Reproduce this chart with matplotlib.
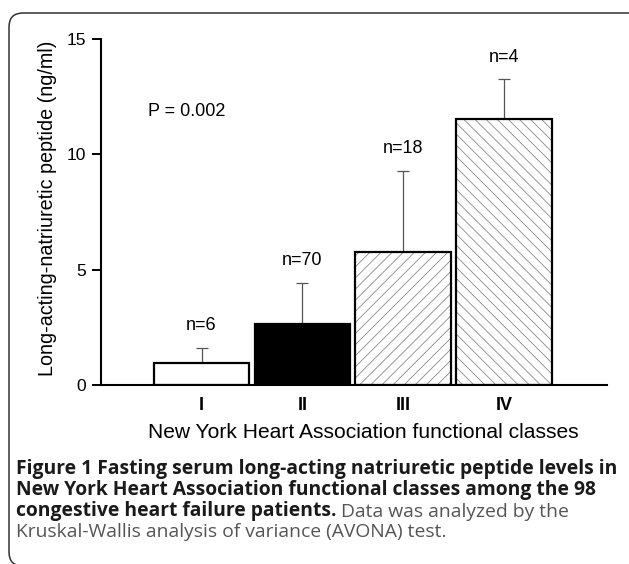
import numpy as np
import matplotlib.pyplot as plt
from matplotlib.patches import FancyBboxPatch

# data
classes = ['I', 'II', 'III', 'IV']
means = [0.97, 2.63, 5.77, 11.55]
sds = [0.65, 1.80, 3.52, 1.70]
n_labels = ['n=6', 'n=70', 'n=18', 'n=4']
p_text = 'P = 0.002'

caption_bold = ['Figure 1 Fasting serum long-acting natriuretic peptide levels in',
                'New York Heart Association functional classes among the 98',
                'congestive heart failure patients.']
caption_plain = [' Data was analyzed by the',
                 'Kruskal-Wallis analysis of variance (AVONA) test.']

plt.rcParams['font.family'] = ['Liberation Sans', 'DejaVu Sans']

W, H = 629, 564
fig = plt.figure(figsize=(W / 100, H / 100), dpi=100)
ax = fig.add_axes([100.7 / W, 1 - 385 / H, (607 - 100.7) / W, (385 - 39) / H])

x = np.arange(len(classes))
width = 0.95

# fills
ax.bar(x[0], means[0], width, color='white', edgecolor='black', linewidth=1.6, zorder=2)
ax.bar(x[1], means[1], width, color='black', edgecolor='black', linewidth=1.6, zorder=2)
plt.rcParams['hatch.linewidth'] = 0.6
ax.bar(x[2], means[2], width, color='white', edgecolor='#8a8a8a', hatch='///', linewidth=0, zorder=2)
ax.bar(x[3], means[3], width, color='white', edgecolor='#8a8a8a', hatch='\\\\\\', linewidth=0, zorder=2)
ax.bar(x[2:], means[2:], width, color='none', edgecolor='black', linewidth=1.6, zorder=3)

# error bars (upper only)
ax.errorbar(x, means, yerr=[np.zeros(len(sds)), sds], fmt='none', ecolor='#555555',
            elinewidth=0.9, capsize=4, capthick=0.9, zorder=1)

for xi, m, s, lab in zip(x, means, sds, n_labels):
    ax.annotate(lab, (xi, m + s), xytext=(0, 16), textcoords='offset points',
                ha='center', va='center', fontsize=13)

ax.text(-0.15, 11.86, p_text, ha='center', va='center', fontsize=13)

ax.set_xlim(-1, 4.02)
ax.set_ylim(0, 15)
ax.set_yticks([0, 5, 10, 15])
ax.set_xticks(x)
ax.set_xticklabels(classes, fontweight='bold', fontsize=13)
ax.tick_params(axis='x', length=0, pad=9)
ax.tick_params(axis='y', direction='out', length=6.5, width=1.4, pad=4, labelsize=12.5)
for side in ['top', 'right']:
    ax.spines[side].set_visible(False)
for side in ['left', 'bottom']:
    ax.spines[side].set_linewidth(1.5)

ax.set_ylabel('Long-acting-natriuretic peptide (ng/ml)', fontsize=14.2)
ax.yaxis.label.set_va('center')
ax.yaxis.set_label_coords(-0.106, 0.51)
ax.set_xlabel('New York Heart Association functional classes', fontsize=15.1)
ax.xaxis.label.set_va('center')
ax.xaxis.set_label_coords(0.518, -0.136)

# caption
cap_font = ['Open Sans', 'DejaVu Sans']
cap_size = 13.9
line_y = [469, 490, 511, 532]
for i, txt in enumerate(caption_bold):
    t = fig.text(16 / W, 1 - line_y[i] / H, txt, family=cap_font, fontweight='bold',
                 fontsize=cap_size, color='#1a1a1a', va='center', ha='left')
fig.add_artist(plt.Annotation(caption_plain[0], xy=(1, 0), xycoords=t,
                              va='bottom', ha='left', family=cap_font,
                              fontsize=cap_size, color='#555555'))
fig.text(16 / W, 1 - line_y[3] / H, caption_plain[1], family=cap_font,
         fontsize=cap_size, color='#555555', va='center', ha='left')

# rounded frame
frame = FancyBboxPatch((9, -2), 640, H - 13 + 2, boxstyle='round,pad=0,rounding_size=14',
                       transform=None, facecolor='none', edgecolor='#333333', linewidth=1.1)
fig.add_artist(frame)

fig.savefig('out.png', dpi=100)
